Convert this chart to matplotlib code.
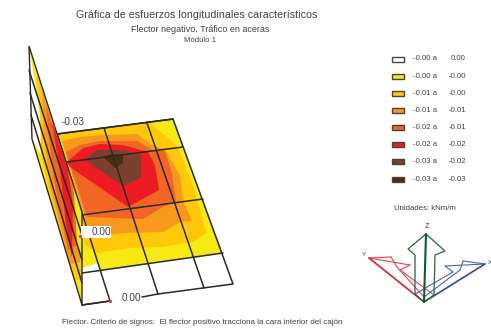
"""Longitudinal stress contour view of a box module, traced from pixel positions."""

import matplotlib
matplotlib.use("Agg")
import matplotlib.pyplot as plt
from matplotlib.patches import Polygon, Rectangle

WIDTH, HEIGHT = 491, 333
TEXT = "#404040"
LINE = "#2a2a22"

C_WHITE = "#ffffff"
C_YELLOW = "#f7ea14"
C_GOLD = "#ffc90a"
C_ORANGE = "#f8981d"
C_DORANGE = "#f26522"
C_RED = "#ed1c24"
C_BROWN = "#7b3f2e"
C_DARK = "#4b2d0e"

LEGEND_COLORS = [C_WHITE, C_YELLOW, C_GOLD, C_ORANGE, C_DORANGE, C_RED, C_BROWN, C_DARK]
LEGEND_LOW = ["-0.00 a", "-0.00 a", "-0.01 a", "-0.01 a", "-0.02 a", "-0.02 a", "-0.03 a", "-0.03 a"]
LEGEND_HIGH = ["0.00", "-0.00", "-0.00", "-0.01", "-0.01", "-0.02", "-0.02", "-0.03"]

# deck outline and contour bands, outer to inner
DECK = [(57, 134), (173, 119), (233, 284), (158, 294)]
DECK_LEFT = [(57, 134), (110, 301), (82, 305)]
DECK_YELLOW = [(57, 134), (173, 119), (223, 253), (101, 270), (98, 263), (82, 268)]
DECK_GOLD = [(57, 134), (148, 122), (172, 141), (178, 147), (192, 183), (207, 233), (193, 242),
             (163, 247), (130, 248), (97, 253), (85, 245), (70, 190)]
DECK_ORANGE = [(62, 141), (80, 137), (103, 135), (137, 134), (152, 145), (165, 150), (180, 175),
               (183, 200), (192, 221), (180, 222), (163, 232), (127, 233), (100, 235), (87, 225)]
DECK_DORANGE = [(66, 152), (80, 145), (100, 141), (137, 141), (152, 150), (165, 151), (172, 173),
                (176, 202), (163, 207), (143, 219), (117, 218), (87, 217)]
DECK_RED = [(67, 162), (83, 148), (100, 144), (123, 145), (148, 152), (155, 165), (159, 190),
            (128, 207), (70, 167)]
DECK_BROWN = [(85, 160), (97, 150), (123, 150), (141, 155), (141, 178), (123, 186)]
DECK_DARK = [(103, 157), (112, 154), (123, 155), (123, 163), (115, 168)]
DECK_BANDS = [
    (DECK_YELLOW, C_YELLOW), (DECK_GOLD, C_GOLD), (DECK_ORANGE, C_ORANGE),
    (DECK_DORANGE, C_DORANGE), (DECK_RED, C_RED), (DECK_BROWN, C_BROWN), (DECK_DARK, C_DARK),
]
DECK_ACROSS = [((67, 162), (183, 147)), ((82, 215), (203, 199)), ((82, 273), (223, 253))]
DECK_ALONG = [((104, 128), (158, 294)), ((147, 123), (204, 288))]

# web outline and contour bands
WEB = [(29, 46), (82, 212), (82, 305), (32, 139)]
WEB_YELLOW = [(29, 46), (82, 212), (82, 305), (32, 139), (44, 160), (38, 100)]
WEB_GOLD = [(36, 68), (82, 212), (82, 280), (74, 280), (52, 205), (41, 155), (40, 110)]
WEB_ORANGE = [(42, 90), (82, 212), (80, 262), (70, 264), (50, 185), (44, 135)]
WEB_DORANGE = [(46, 105), (75, 195), (77, 245), (68, 250), (54, 180), (48, 130)]
WEB_RED = [(52, 122), (68, 170), (73, 205), (72, 258), (66, 225), (60, 170)]
WEB_YELLOW_INNER = [(73, 182), (82, 212), (82, 262), (77, 240)]
WEB_BANDS = [
    (WEB_YELLOW, C_YELLOW), (WEB_GOLD, C_GOLD), (WEB_ORANGE, C_ORANGE),
    (WEB_DORANGE, C_DORANGE), (WEB_RED, C_RED), (WEB_YELLOW_INNER, C_YELLOW),
]
WEB_LINES = [((29, 70), (82, 235)), ((30, 93), (82, 260)), ((31, 115), (82, 283))]

MARKERS = [(53, 126), (80, 236), (110, 301)]

AXIS_Z = [(426, 234), (445, 251), (435, 255), (434, 295), (424, 302), (415, 294), (415, 255), (408, 249)]
AXIS_Y_LINES = [((369, 258), (410, 265)), ((369, 258), (391, 257)), ((391, 257), (397, 267)),
                ((410, 265), (400, 270)), ((400, 270), (434, 295)), ((397, 267), (424, 297))]
AXIS_Y_MAIN = ((369, 258), (424, 302))
AXIS_X_LINES = [((485, 264), (445, 266)), ((485, 264), (463, 261)), ((463, 261), (460, 270)),
                ((445, 266), (453, 272)), ((453, 272), (415, 294)), ((460, 270), (424, 297))]
AXIS_X_MAIN = ((485, 264), (424, 302))


def poly(ax, points, color, zorder):
    ax.add_patch(Polygon(points, closed=True, facecolor=color, edgecolor="none", zorder=zorder))


def seg(ax, a, b, color=LINE, lw=1.1, zorder=4):
    ax.plot([a[0], b[0]], [a[1], b[1]], color=color, lw=lw, zorder=zorder, solid_capstyle="round")


def label(ax, x, y, s, size, **kw):
    kw.setdefault("ha", "center")
    ax.text(x, y, s, fontsize=size, color=TEXT, va="center", **kw)


def main():
    plt.rcParams["font.family"] = ["Liberation Sans", "DejaVu Sans"]
    fig = plt.figure(figsize=(WIDTH / 100, HEIGHT / 100), dpi=100)
    ax = fig.add_axes([0, 0, 1, 1])
    ax.set_xlim(0, WIDTH)
    ax.set_ylim(HEIGHT, 0)
    ax.axis("off")

    label(ax, 197, 15, "Gráfica de esfuerzos longitudinales característicos", 7.7)
    label(ax, 200, 29, "Flector negativo. Tráfico en aceras", 6.5)
    label(ax, 200, 40, "Módulo 1", 5.6)
    label(ax, 202, 323, "Flector. Criterio de signos:  El flector positivo tracciona la cara interior del cajón", 5.8)

    for points, color in DECK_BANDS:
        poly(ax, points, color, 2)
    ax.plot(*zip(*DECK), color=LINE, lw=1.1, zorder=4)
    ax.plot(*zip(*DECK_LEFT), color=LINE, lw=1.1, zorder=4)
    seg(ax, (57, 134), (173, 119))
    for a, b in DECK_ACROSS + DECK_ALONG:
        seg(ax, a, b)

    poly(ax, WEB, C_WHITE, 5)
    for points, color in WEB_BANDS:
        poly(ax, points, color, 5)
    ax.add_patch(Polygon(WEB, closed=True, fill=False, edgecolor=LINE, lw=1.0, zorder=6))
    for a, b in WEB_LINES:
        seg(ax, a, b, zorder=6)

    ax.add_patch(Rectangle((81, 226), 30, 12, facecolor="white", edgecolor="none", zorder=7))
    label(ax, 62, 122, "-0.03", 7.2, ha="left", zorder=8)
    label(ax, 92, 232, "0.00", 7.2, ha="left", zorder=8)
    label(ax, 122, 298, "0.00", 7.2, ha="left", zorder=8)
    seg(ax, (110, 301), (82, 305))
    seg(ax, (142, 297), (158, 294))
    ax.scatter([p[0] for p in MARKERS], [p[1] for p in MARKERS], s=5, color="#e8303a", zorder=9, linewidths=0)

    for i, color in enumerate(LEGEND_COLORS):
        y = 59 + i * 17.15
        ax.add_patch(Rectangle((392, y - 2.5), 12, 5, facecolor=color, edgecolor="#444444", lw=1.0, zorder=3))
        label(ax, 413, y, LEGEND_LOW[i], 5.6, ha="left")
        label(ax, 466, y, LEGEND_HIGH[i], 5.6, ha="right")

    label(ax, 425, 209, "Unidades: kNm/m", 5.6)
    label(ax, 427, 227, "Z", 5.2)
    label(ax, 364, 255, "Y", 4.6)
    label(ax, 490, 262, "X", 4.6)

    for a, b in AXIS_Y_LINES:
        seg(ax, a, b, color="#e8434b", lw=0.8, zorder=3)
    seg(ax, *AXIS_Y_MAIN, color="#e0202a", lw=1.2, zorder=3)
    for a, b in AXIS_X_LINES:
        seg(ax, a, b, color="#4a64b0", lw=0.8, zorder=3)
    seg(ax, *AXIS_X_MAIN, color="#2f4ba0", lw=1.2, zorder=3)
    ax.add_patch(Polygon(AXIS_Z, closed=True, fill=False, edgecolor="#1f6b3a", lw=0.9, zorder=4))
    seg(ax, AXIS_Z[0], AXIS_Z[4], color="#0f5a2a", lw=1.5, zorder=4)

    fig.savefig("out.png", dpi=100)
    plt.close(fig)


if __name__ == "__main__":
    main()
